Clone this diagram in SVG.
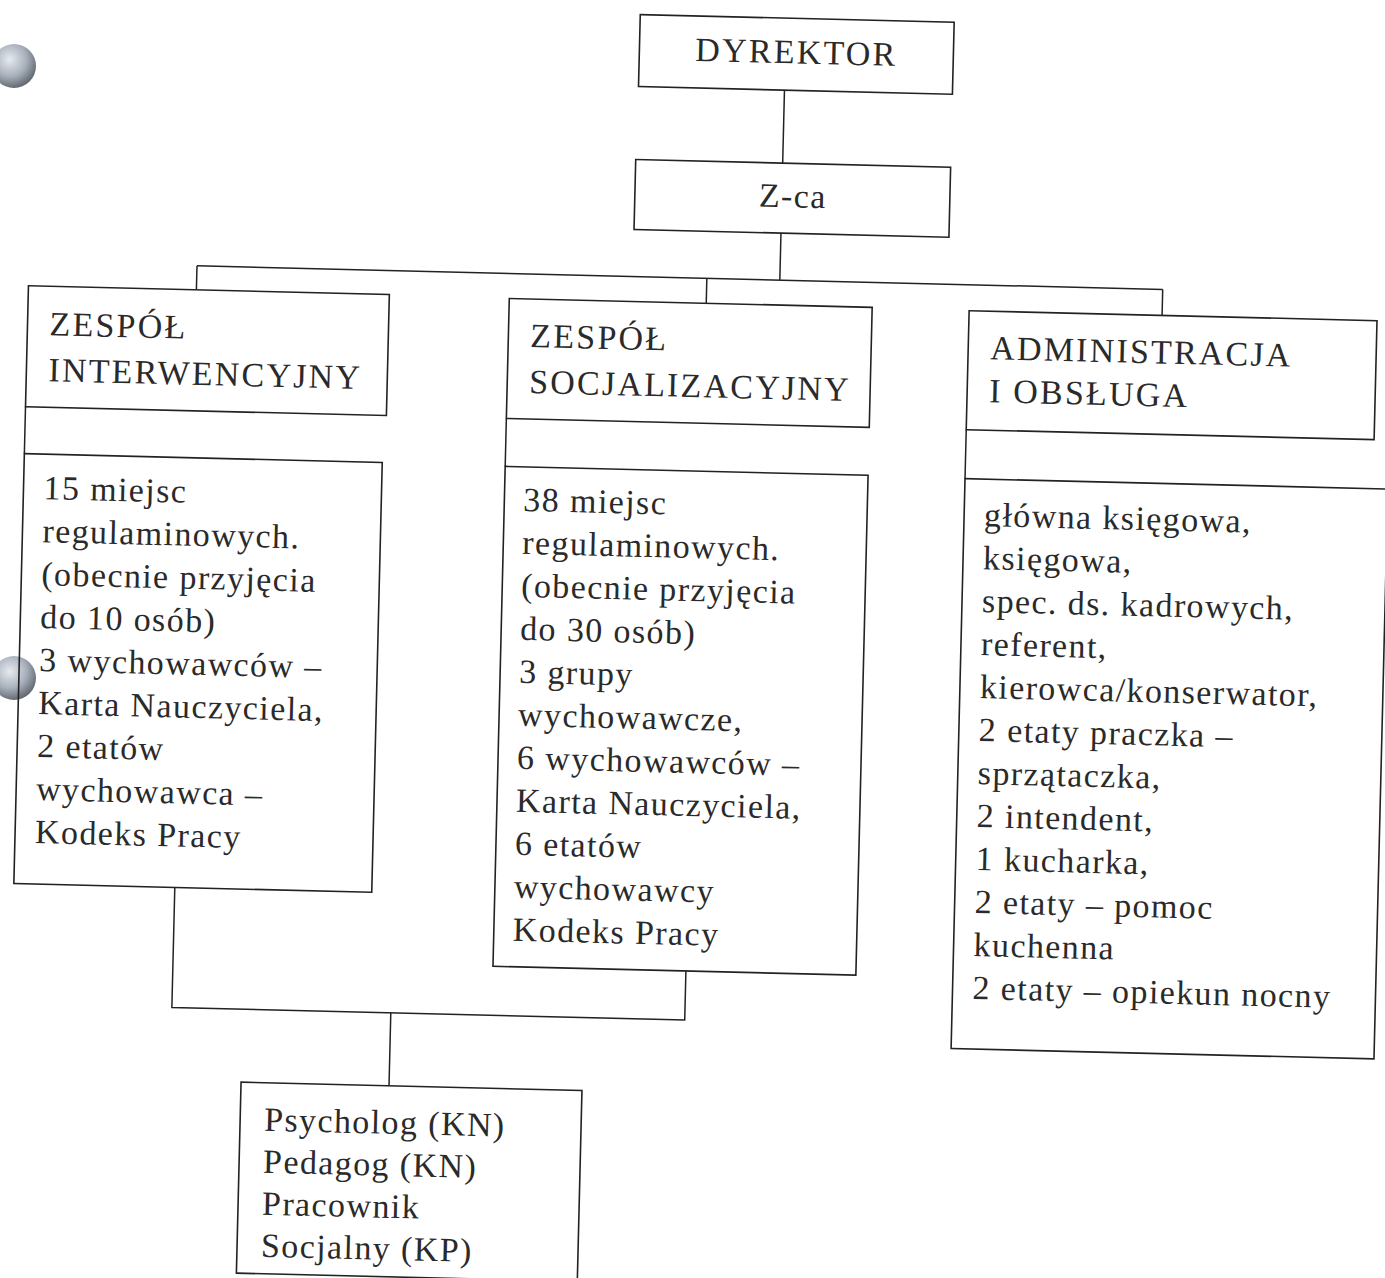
<svg xmlns="http://www.w3.org/2000/svg" width="1385" height="1278" viewBox="0 0 1385 1278">
<style>
.box{fill:none;stroke:#222;stroke-width:1.6}
.ln{fill:none;stroke:#222;stroke-width:1.5}
text{font-family:"Liberation Serif","Times New Roman",serif;font-size:34px;fill:#2a2a2a;letter-spacing:1.4px}
.h{letter-spacing:2.2px}
.c{text-anchor:middle}
</style>
<defs>
<radialGradient id="ball" cx="0.4" cy="0.35" r="0.7">
<stop offset="0" stop-color="#e6eaef"/>
<stop offset="0.55" stop-color="#a7b0bb"/>
<stop offset="1" stop-color="#5a5f66"/>
</radialGradient>
</defs>
<rect width="1385" height="1278" fill="#fff"/>
<circle cx="14" cy="66" r="22" fill="url(#ball)"/>
<circle cx="14" cy="678" r="22" fill="url(#ball)"/>
<g transform="rotate(1.4 690 640)">
<g id="connectors">
<path class="ln" d="M771 88V161"/>
<path class="ln" d="M771 231V278"/>
<path class="ln" d="M188 278H1154"/>
<path class="ln" d="M188 278V302"/>
<path class="ln" d="M698 278V303"/>
<path class="ln" d="M1154 278V304"/>
<path class="ln" d="M181 900V1020H694V971"/>
<path class="ln" d="M400 1020V1093"/>
</g>
<g id="dyrektor">
<rect class="box" x="625" y="16" width="314" height="72"/>
<text class="c h" x="782" y="61">DYREKTOR</text>
</g>
<g id="zca">
<rect class="box" x="624" y="161" width="315" height="70"/>
<text class="c" x="782" y="205">Z-ca</text>
</g>
<g id="zespol-interwencyjny">
<rect class="box" x="20" y="302" width="361" height="121"/>
<text class="h" x="42" y="351">ZESPÓŁ</text>
<text class="h" x="42" y="397">INTERWENCYJNY</text>
<path class="ln" d="M20 423V470"/>
<rect class="box" x="20" y="470" width="358" height="430"/>
<text x="40" y="515">15 miejsc</text>
<text x="40" y="558">regulaminowych.</text>
<text x="40" y="601">(obecnie przyjęcia</text>
<text x="40" y="644">do 10 osób)</text>
<text x="40" y="687">3 wychowawców –</text>
<text x="40" y="730">Karta Nauczyciela,</text>
<text x="40" y="773">2 etatów</text>
<text x="40" y="816">wychowawca –</text>
<text x="40" y="859">Kodeks Pracy</text>
</g>
<g id="zespol-socjalizacyjny">
<rect class="box" x="501" y="303" width="363" height="120"/>
<text class="h" x="523" y="351">ZESPÓŁ</text>
<text class="h" x="523" y="397">SOCJALIZACYJNY</text>
<path class="ln" d="M501 423V471"/>
<rect class="box" x="501" y="471" width="363" height="500"/>
<text x="520" y="515">38 miejsc</text>
<text x="520" y="558">regulaminowych.</text>
<text x="520" y="601">(obecnie przyjęcia</text>
<text x="520" y="644">do 30 osób)</text>
<text x="520" y="687">3 grupy</text>
<text x="520" y="730">wychowawcze,</text>
<text x="520" y="773">6 wychowawców –</text>
<text x="520" y="816">Karta Nauczyciela,</text>
<text x="520" y="859">6 etatów</text>
<text x="520" y="902">wychowawcy</text>
<text x="520" y="945">Kodeks Pracy</text>
</g>
<g id="administracja">
<rect class="box" x="961" y="304" width="408" height="119"/>
<text class="h" x="983" y="352">ADMINISTRACJA</text>
<text class="h" x="983" y="395">I OBSŁUGA</text>
<path class="ln" d="M961 423V472"/>
<rect class="box" x="961" y="472" width="423" height="570"/>
<text x="981" y="519">główna księgowa,</text>
<text x="981" y="562">księgowa,</text>
<text x="981" y="605">spec. ds. kadrowych,</text>
<text x="981" y="648">referent,</text>
<text x="981" y="691">kierowca/konserwator,</text>
<text x="981" y="734">2 etaty praczka –</text>
<text x="981" y="777">sprzątaczka,</text>
<text x="981" y="820">2 intendent,</text>
<text x="981" y="863">1 kucharka,</text>
<text x="981" y="906">2 etaty – pomoc</text>
<text x="981" y="949">kuchenna</text>
<text x="981" y="992">2 etaty – opiekun nocny</text>
</g>
<g id="psycholog">
<rect class="box" x="252" y="1093" width="341" height="191"/>
<text x="276" y="1141">Psycholog (KN)</text>
<text x="276" y="1183">Pedagog (KN)</text>
<text x="276" y="1225">Pracownik</text>
<text x="276" y="1267">Socjalny (KP)</text>
</g>
</g>
</svg>
